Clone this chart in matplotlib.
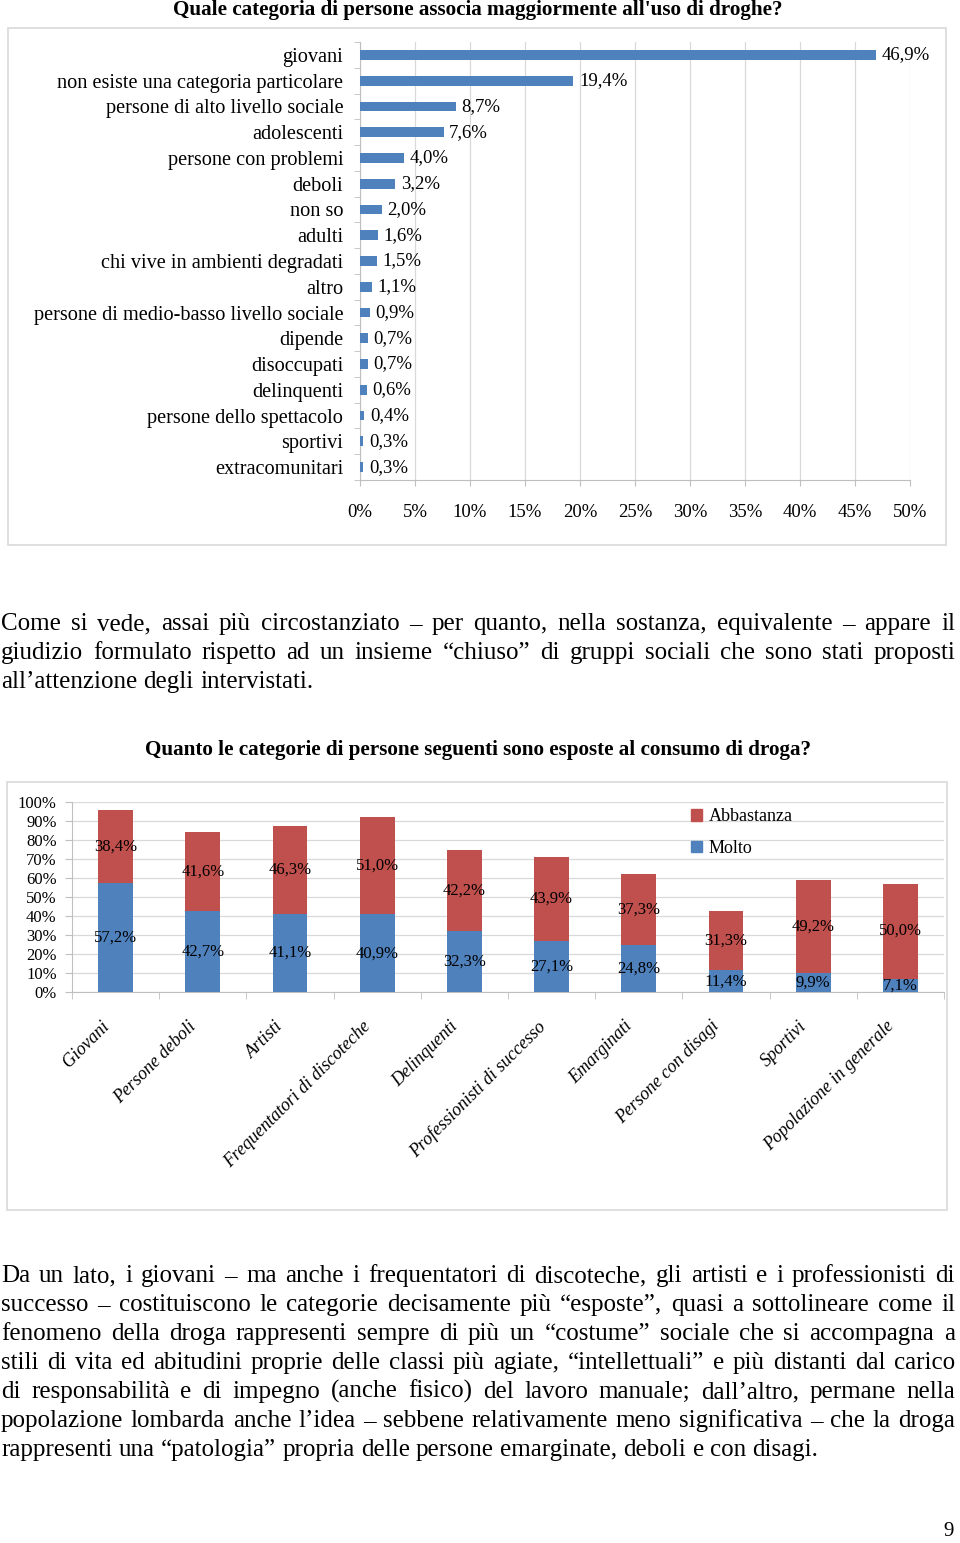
import matplotlib
matplotlib.use('Agg')
import matplotlib.pyplot as plt
import numpy as np
from matplotlib.patches import Rectangle, Patch
from matplotlib.transforms import ScaledTranslation

# ---------------- data ----------------
title1 = "Quale categoria di persone associa maggiormente all'uso di droghe?"
cat1 = ["giovani", "non esiste una categoria particolare", "persone di alto livello sociale",
        "adolescenti", "persone con problemi", "deboli", "non so", "adulti",
        "chi vive in ambienti degradati", "altro", "persone di medio-basso livello sociale",
        "dipende", "disoccupati", "delinquenti", "persone dello spettacolo", "sportivi",
        "extracomunitari"]
val1 = [46.9, 19.4, 8.7, 7.6, 4.0, 3.2, 2.0, 1.6, 1.5, 1.1, 0.9, 0.7, 0.7, 0.6, 0.4, 0.3, 0.3]
xticks1 = [0, 5, 10, 15, 20, 25, 30, 35, 40, 45, 50]

title2 = "Quanto le categorie di persone seguenti sono esposte al consumo di droga?"
cat2 = ["Giovani", "Persone deboli", "Artisti", "Frequentatori di discoteche", "Delinquenti",
        "Professionisti di successo", "Emarginati", "Persone con disagi", "Sportivi",
        "Popolazione in generale"]
molto = [57.2, 42.7, 41.1, 40.9, 32.3, 27.1, 24.8, 11.4, 9.9, 7.1]
abbastanza = [38.4, 41.6, 46.3, 51.0, 42.2, 43.9, 37.3, 31.3, 49.2, 50.0]
yticks2 = [0, 10, 20, 30, 40, 50, 60, 70, 80, 90, 100]

para1 = ["Come si vede, assai più circostanziato – per quanto, nella sostanza, equivalente – appare il",
         "giudizio formulato rispetto ad un insieme “chiuso” di gruppi sociali che sono stati proposti",
         "all’attenzione degli intervistati."]
para2 = ["Da un lato, i giovani – ma anche i frequentatori di discoteche, gli artisti e i professionisti di",
         "successo – costituiscono le categorie decisamente più “esposte”, quasi a sottolineare come il",
         "fenomeno della droga rappresenti sempre di più un “costume” sociale che si accompagna a",
         "stili di vita ed abitudini proprie delle classi più agiate, “intellettuali” e più distanti dal carico",
         "di responsabilità e di impegno (anche fisico) del lavoro manuale; dall’altro, permane nella",
         "popolazione lombarda anche l’idea – sebbene relativamente meno significativa – che la droga",
         "rappresenti una “patologia” propria delle persone emarginate, deboli e con disagi."]
page_number = "9"

# ---------------- style ----------------
plt.rcParams['font.family'] = ['Liberation Serif', 'DejaVu Serif']
BLUE = '#4F81BD'
RED = '#C0504D'
GRID = '#D9D9D9'
SPINE = '#BFBFBF'

W, H = 960, 1543
fig = plt.figure(figsize=(W / 100, H / 100), dpi=100)


def fx(px):
    return px / W


def fy(py):
    return 1 - py / H


def pct(v):
    return f"{v:.1f}%".replace('.', ',')


# ---------------- chart 1 ----------------
fig.text(fx(478), fy(10), title1, ha='center', va='center', fontsize=15.2, fontweight='bold')
fig.patches.append(Rectangle((fx(8), fy(545)), fx(946) - fx(8), (545 - 28) / H,
                             transform=fig.transFigure, fill=False, ec=GRID, lw=1.2))

ax1 = fig.add_axes([fx(360), fy(480), (910 - 360) / W, (480 - 42) / H])
ypos = np.arange(len(cat1))
bars1 = ax1.barh(ypos, val1, height=0.38, color=BLUE, zorder=3)
ax1.set_xlim(0, 50)
ax1.set_ylim(len(cat1) - 0.5, -0.5)
ax1.set_xticks(xticks1)
ax1.set_xticklabels([f"{t}%" for t in xticks1])
ax1.set_yticks(ypos)
ax1.set_yticklabels(cat1)
ax1.set_yticks(np.arange(-0.5, len(cat1), 1.0), minor=True)
ax1.tick_params(axis='y', which='major', length=0, pad=12, labelsize=14.6)
ax1.tick_params(axis='y', which='minor', length=4, color=SPINE)
ax1.tick_params(axis='x', length=4, color=SPINE, pad=13, labelsize=13.5)
ax1.grid(axis='x', color=GRID, lw=0.9)
ax1.set_axisbelow(True)
for s in ['top', 'right']:
    ax1.spines[s].set_visible(False)
for s in ['left', 'bottom']:
    ax1.spines[s].set_color(SPINE)
ax1.bar_label(bars1, labels=[pct(v) for v in val1], padding=4, fontsize=13.5)

# ---------------- paragraph helper ----------------
renderer = fig.canvas.get_renderer()


def put_line(line, y_base, justify=True, x0=1, x1=955, fs=18):
    words = line.split(' ')
    texts = [fig.text(0, fy(y_base), w, fontsize=fs, ha='left', va='baseline') for w in words]
    widths = [t.get_window_extent(renderer).width for t in texts]
    if justify and len(words) > 1:
        gap = (x1 - x0 - sum(widths)) / (len(words) - 1)
    else:
        gap = fs * 100 / 72 * 0.25
    x = x0
    for t, w in zip(texts, widths):
        t.set_x(fx(x))
        x += w + gap


for i, line in enumerate(para1):
    put_line(line, 630 + 29 * i, justify=(i < len(para1) - 1))

# ---------------- chart 2 ----------------
fig.text(fx(478), fy(750), title2, ha='center', va='center', fontsize=15.2, fontweight='bold')
fig.patches.append(Rectangle((fx(7), fy(1210)), fx(947) - fx(7), (1210 - 782) / H,
                             transform=fig.transFigure, fill=False, ec=GRID, lw=1.2))

ax2 = fig.add_axes([fx(72), fy(992), (944 - 72) / W, (992 - 802) / H])
xpos = np.arange(len(cat2))
b_m = ax2.bar(xpos, molto, 0.4, color=BLUE, zorder=3, label='Molto')
b_a = ax2.bar(xpos, abbastanza, 0.4, bottom=molto, color=RED, zorder=3, label='Abbastanza')
ax2.set_xlim(-0.5, len(cat2) - 0.5)
ax2.set_ylim(0, 100)
ax2.set_yticks(yticks2)
ax2.set_yticklabels([f"{t}%" for t in yticks2])
ax2.tick_params(axis='y', length=5, color=SPINE, pad=6, labelsize=12)
ax2.set_xticks(xpos)
ax2.set_xticklabels(cat2, rotation=45, ha='right', rotation_mode='anchor',
                    fontsize=13, fontstyle='italic')
ax2.set_xticks(np.arange(-0.5, len(cat2), 1.0), minor=True)
ax2.tick_params(axis='x', which='major', length=0, pad=18.5)
ax2.tick_params(axis='x', which='minor', length=5, color=SPINE)
off = ScaledTranslation(-15 / 100, 0, fig.dpi_scale_trans)
for lbl in ax2.get_xticklabels():
    lbl.set_transform(lbl.get_transform() + off)
ax2.grid(axis='y', color=GRID, lw=0.9)
ax2.set_axisbelow(True)
for s in ['top', 'right']:
    ax2.spines[s].set_visible(False)
for s in ['left', 'bottom']:
    ax2.spines[s].set_color(SPINE)
ax2.bar_label(b_m, labels=[pct(v) for v in molto], label_type='center', fontsize=12)
ax2.bar_label(b_a, labels=[pct(v) for v in abbastanza], label_type='center', fontsize=12)
ax2.legend(handles=[Patch(color=RED, label='Abbastanza'), Patch(color=BLUE, label='Molto')],
           loc='upper left', bbox_to_anchor=(fx(684), fy(801)), bbox_transform=fig.transFigure,
           frameon=False, fontsize=13, handlelength=0.6, handleheight=0.6,
           handletextpad=0.35, labelspacing=0.8, borderaxespad=0)

# ---------------- paragraph 2 ----------------
for i, line in enumerate(para2):
    put_line(line, 1282 + 29 * i, justify=(i < len(para2) - 1))

fig.text(fx(949), fy(1531), page_number, ha='center', va='center', fontsize=15)

fig.savefig('out.png', dpi=100)
